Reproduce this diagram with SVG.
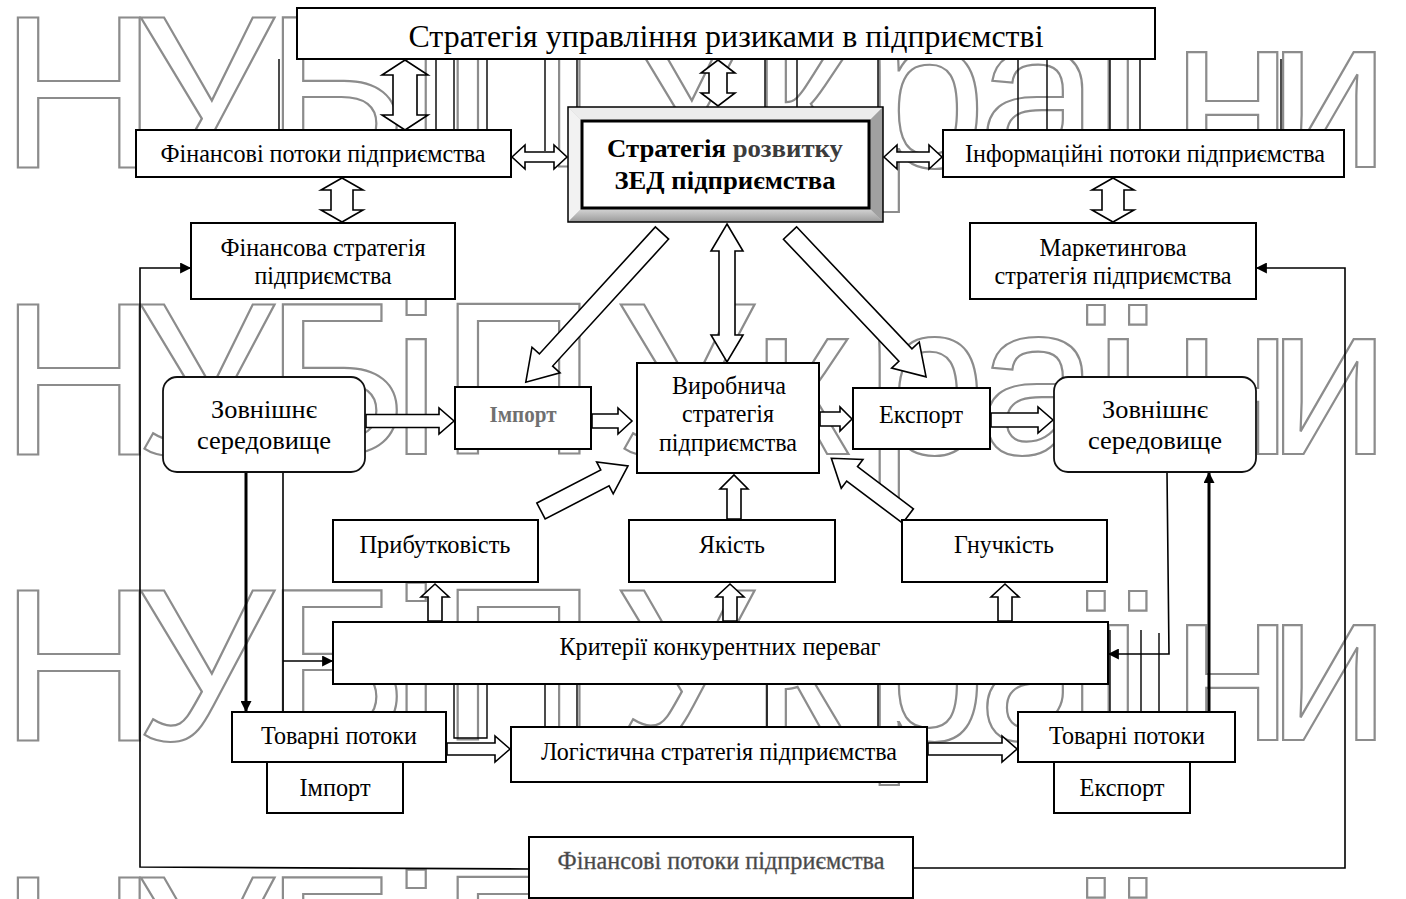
<svg xmlns="http://www.w3.org/2000/svg" width="1406" height="899" viewBox="0 0 1406 899">
<defs>
<style>
.box{fill:#fff;stroke:#000;stroke-width:2}
.rbox{fill:#fff;stroke:#111;stroke-width:1.8}
.t{font-family:"Liberation Serif","Times New Roman",serif;font-size:26px;fill:#000;text-anchor:middle}
.tb{font-family:"Liberation Serif","Times New Roman",serif;font-size:26px;font-weight:bold;fill:#000;text-anchor:middle}
.ba{fill:#fff;stroke:#000;stroke-width:1.6;stroke-linejoin:miter}
.ln{fill:none;stroke:#000;stroke-width:1.6}
.lk{fill:none;stroke:#000;stroke-width:3}
.wl{fill:none;stroke:#000;stroke-width:1.4}
.wm{font-family:"Liberation Sans",Arial,sans-serif;font-size:218px;fill:none;stroke:#8c8c8c;stroke-width:2.2}
</style>
<marker id="ah" viewBox="0 0 10 10" refX="9" refY="5" markerUnits="userSpaceOnUse" markerWidth="12" markerHeight="11" orient="auto"><path d="M0,0 L10,5 L0,10 z" fill="#000"/></marker>
<linearGradient id="gb" x1="0" y1="0" x2="0" y2="1"><stop offset="0" stop-color="#d8d8d8"/><stop offset="1" stop-color="#9a9a9a"/></linearGradient>
</defs>
<rect width="1406" height="899" fill="#fff"/>
<g id="watermark">
<text class="wm" x="0 135 265 392 440 580 615 752 865 978 1088 1172 1268" y="167">НУБіП України</text>
<text class="wm" x="0 135 265 392 440 580 615 752 865 978 1088 1172 1268" y="454">НУБіП України</text>
<text class="wm" x="0 135 265 392 440 580 615 752 865 978 1088 1172 1268" y="740">НУБіП України</text>
<text class="wm" x="0 135 265 392 440 580 615 752 865 978 1088 1172 1268" y="1027">НУБіП України</text>
<path class="wl" d="M279,59V130 M436,59V130 M454,59V130 M487,59V130 M545,59V151 M577,59V107 M765,59V107 M797,59V107 M878,59V107 M1018,59V130 M1047,59V130 M1110,59V130 M1140,59V130 M1281,59V130"/>
<path class="wl" d="M454,684V738H487V684 M545,684V727 M577,684V727 M767,684V727 M878,684V727 M1110,630V712 M1141,630V712 M1159,633V712"/>
</g>
<g id="connectors">
<polygon class="ba" points="405,60 428,75 417,75 417,115 428,115 405,130 382,115 393,115 393,75 382,75"/>
<polygon class="ba" points="342,178 363,190 353,190 353,210 363,210 342,222 321,210 331,210 331,190 321,190"/>
<polygon class="ba" points="1113,178 1134,190 1124,190 1124,210 1134,210 1113,222 1092,210 1102,210 1102,190 1092,190"/>
<polygon class="ba" points="718,60 735,73 727,73 727,93 735,93 718,106 701,93 709,93 709,73 701,73"/>
<polygon class="ba" points="512,157 525,145 525,152 554,152 554,145 567,157 554,169 554,162 525,162 525,169"/>
<polygon class="ba" points="884,157 897,145 897,152 929,152 929,145 942,157 929,169 929,162 897,162 897,169"/>
<polygon class="ba" points="727,224 743,251 735,251 735,335 743,335 727,362 711,335 719,335 719,251 711,251"/>
<polygon class="ba" transform="translate(662,233) rotate(132.4)" points="0,-9 172,-9 172,-19 202,0 172,19 172,9 0,9"/>
<polygon class="ba" transform="translate(790,233) rotate(46.6)" points="0,-9 168,-9 168,-19 198,0 168,19 168,9 0,9"/>
<polygon class="ba" transform="translate(541,511) rotate(-27.4)" points="0,-9 72,-9 72,-18 98,0 72,18 72,9 0,9"/>
<polygon class="ba" transform="translate(908,516) rotate(-143)" points="0,-9 70,-9 70,-18 96,0 70,18 70,9 0,9"/>
<polygon class="ba" points="366,414.5 439,414.5 439,408 454,421 439,434 439,427.5 366,427.5"/>
<polygon class="ba" points="592,414 618,414 618,408 632,421 618,434 618,428 592,428"/>
<polygon class="ba" points="820,412 840,412 840,407 852,419 840,431 840,426 820,426"/>
<polygon class="ba" points="991,413 1038,413 1038,407 1053,420 1038,433 1038,427 991,427"/>
<polygon class="ba" points="447,743 495,743 495,736 510,749 495,762 495,755 447,755"/>
<polygon class="ba" points="928,743 1002,743 1002,736 1017,749 1002,762 1002,755 928,755"/>
<polygon class="ba" points="428,621 428,597 421,597 435,584 449,597 442,597 442,621"/>
<polygon class="ba" points="723,621 723,597 716,597 730,584 744,597 737,597 737,621"/>
<polygon class="ba" points="998,621 998,597 991,597 1005,584 1019,597 1012,597 1012,621"/>
<polygon class="ba" points="727,519 727,489 720,489 734,475 748,489 741,489 741,519"/>
<path class="ln" d="M529,869 L140,867 L140,268 L190,268" marker-end="url(#ah)"/>
<path class="ln" d="M913,868 L1345,868 L1345,268 L1257,268" marker-end="url(#ah)"/>
<path class="lk" d="M246,472 L246,711" marker-end="url(#ah)"/>
<path class="ln" d="M283,472 L283,712"/>
<path class="ln" d="M283,661 L332,661" marker-end="url(#ah)"/>
<path class="ln" d="M1167,472 L1169,654 L1109,654" marker-end="url(#ah)"/>
<path class="lk" d="M1209,712 L1209,473" marker-end="url(#ah)"/>
</g>
<g id="n-top"><rect class="box" x="297" y="8" width="858" height="51"/><text class="t" x="726" y="47" style="font-size:32px" textLength="635" lengthAdjust="spacingAndGlyphs">Стратегія управління ризиками в підприємстві</text></g>
<g id="n-finflows"><rect class="box" x="136" y="130" width="375" height="47"/><text class="t" x="323" y="162" textLength="325" lengthAdjust="spacingAndGlyphs">Фінансові потоки підприємства</text></g>
<g id="n-zed">
<rect x="568" y="107" width="315" height="115" fill="#c8c8c8"/>
<polygon points="568,107 883,107 869,121 582,121" fill="#ececec"/>
<polygon points="568,107 582,121 582,208 568,222" fill="#f2f2f2"/>
<polygon points="883,107 883,222 869,208 869,121" fill="#a0a0a0"/>
<polygon points="568,222 883,222 869,208 582,208" fill="url(#gb)"/>
<rect x="568" y="107" width="315" height="115" fill="none" stroke="#000" stroke-width="1.5"/>
<rect x="582" y="121" width="287" height="87" fill="#fff" stroke="#000" stroke-width="3"/>
<text class="tb" x="725" y="157" textLength="236" lengthAdjust="spacingAndGlyphs">Стратегія <tspan fill="#3c3c3c">розвитку</tspan></text>
<text class="tb" x="725" y="189" textLength="221" lengthAdjust="spacingAndGlyphs">ЗЕД підприємства</text>
</g>
<g id="n-infoflows"><rect class="box" x="943" y="130" width="401" height="47"/><text class="t" x="1145" y="162" textLength="360" lengthAdjust="spacingAndGlyphs">Інформаційні потоки підприємства</text></g>
<g id="n-finstrat"><rect class="box" x="191" y="223" width="264" height="76"/><text class="t" x="323" y="256" textLength="205" lengthAdjust="spacingAndGlyphs">Фінансова стратегія</text><text class="t" x="323" y="284" textLength="137" lengthAdjust="spacingAndGlyphs">підприємства</text></g>
<g id="n-mkt"><rect class="box" x="970" y="223" width="286" height="76"/><text class="t" x="1113" y="256" textLength="147" lengthAdjust="spacingAndGlyphs">Маркетингова</text><text class="t" x="1113" y="284" textLength="237" lengthAdjust="spacingAndGlyphs">стратегія підприємства</text></g>
<g id="n-env-left"><rect class="rbox" x="163" y="377" width="202" height="95" rx="14"/><text class="t" x="264" y="418" textLength="106" lengthAdjust="spacingAndGlyphs">Зовнішнє</text><text class="t" x="264" y="449" textLength="134" lengthAdjust="spacingAndGlyphs">середовище</text></g>
<g id="n-import-mid"><rect class="box" x="455" y="387" width="136" height="62"/><text class="t" x="523" y="422" style="font-size:24px;font-weight:bold;fill:#707070" textLength="67" lengthAdjust="spacingAndGlyphs">Імпорт</text></g>
<g id="n-prod"><rect class="box" x="637" y="363" width="182" height="110"/><text class="t" x="729" y="394" textLength="114" lengthAdjust="spacingAndGlyphs">Виробнича</text><text class="t" x="728" y="422" textLength="92" lengthAdjust="spacingAndGlyphs">стратегія</text><text class="t" x="728" y="451" textLength="138" lengthAdjust="spacingAndGlyphs">підприємства</text></g>
<g id="n-export-mid"><rect class="box" x="853" y="388" width="137" height="61"/><text class="t" x="921" y="423" textLength="84" lengthAdjust="spacingAndGlyphs">Експорт</text></g>
<g id="n-env-right"><rect class="rbox" x="1054" y="377" width="202" height="95" rx="14"/><text class="t" x="1155" y="418" textLength="106" lengthAdjust="spacingAndGlyphs">Зовнішнє</text><text class="t" x="1155" y="449" textLength="134" lengthAdjust="spacingAndGlyphs">середовище</text></g>
<g id="n-profit"><rect class="box" x="333" y="520" width="205" height="62"/><text class="t" x="435" y="553" textLength="151" lengthAdjust="spacingAndGlyphs">Прибутковість</text></g>
<g id="n-quality"><rect class="box" x="629" y="520" width="206" height="62"/><text class="t" x="732" y="553" textLength="66" lengthAdjust="spacingAndGlyphs">Якість</text></g>
<g id="n-flex"><rect class="box" x="902" y="520" width="205" height="62"/><text class="t" x="1004" y="553" textLength="100" lengthAdjust="spacingAndGlyphs">Гнучкість</text></g>
<g id="n-criteria"><rect class="box" x="333" y="622" width="775" height="62"/><text class="t" x="720" y="655" textLength="321" lengthAdjust="spacingAndGlyphs">Критерії конкурентних переваг</text></g>
<g id="n-goods-left"><rect class="box" x="232" y="712" width="214" height="50"/><text class="t" x="339" y="744" textLength="156" lengthAdjust="spacingAndGlyphs">Товарні потоки</text></g>
<g id="n-import-low"><rect class="box" x="267" y="762" width="136" height="51"/><text class="t" x="335" y="796" textLength="71" lengthAdjust="spacingAndGlyphs">Імпорт</text></g>
<g id="n-logist"><rect class="box" x="511" y="727" width="416" height="55"/><text class="t" x="719" y="760" textLength="356" lengthAdjust="spacingAndGlyphs">Логістична стратегія підприємства</text></g>
<g id="n-goods-right"><rect class="box" x="1018" y="712" width="217" height="50"/><text class="t" x="1127" y="744" textLength="156" lengthAdjust="spacingAndGlyphs">Товарні потоки</text></g>
<g id="n-export-low"><rect class="box" x="1054" y="762" width="136" height="51"/><text class="t" x="1122" y="796" textLength="85" lengthAdjust="spacingAndGlyphs">Експорт</text></g>
<g id="n-finflows-bottom"><rect class="box" x="529" y="837" width="384" height="61"/><text class="t" x="721" y="869" style="fill:#444;stroke:#666;stroke-width:0.4" textLength="327" lengthAdjust="spacingAndGlyphs">Фінансові потоки підприємства</text></g>
</svg>
